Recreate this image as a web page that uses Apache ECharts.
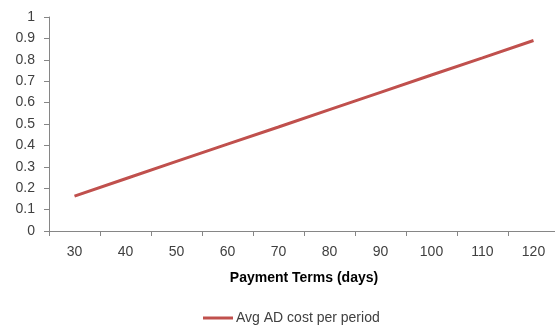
<!DOCTYPE html>
<html>
<head>
<meta charset="utf-8">
<script src="https://cdn.jsdelivr.net/npm/echarts@6/dist/echarts.min.js"></script>
<style>
  html, body { margin: 0; padding: 0; background: #fff; overflow: hidden; }
  /* plot area runs slightly past the right edge in the original */
  #chart { width: 559px; height: 328px; }
</style>
</head>
<body>
<div id="chart"></div>
<script>
// payment terms in days
const terms = ["30", "40", "50", "60", "70", "80", "90", "100", "110", "120"];
// average AD cost per period
const avgCost = [0.163, 0.244, 0.325, 0.406, 0.486, 0.567, 0.648, 0.729, 0.809, 0.89];
const yTicks = [0, 0.1, 0.2, 0.3, 0.4, 0.5, 0.6, 0.7, 0.8, 0.9, 1];

const chart = echarts.init(document.getElementById("chart"));
const axisColor = "#868686";
const font = "Liberation Sans";

chart.setOption({
  animation: false,
  grid: { left: 49, top: 17, right: 0, bottom: 97, containLabel: false },
  xAxis: {
    type: "category",
    data: terms,
    boundaryGap: true,
    name: "Payment Terms (days)",
    nameLocation: "middle",
    nameGap: 40,
    nameTextStyle: { fontFamily: font, fontSize: 14, fontWeight: "bold", color: "#000" },
    axisLine: { lineStyle: { color: axisColor, width: 1 } },
    axisTick: { show: true, interval: 0, length: 5, lineStyle: { color: axisColor } },
    axisLabel: { fontFamily: font, fontSize: 14, color: "#404040", margin: 14 },
    splitLine: { show: false }
  },
  yAxis: {
    type: "value",
    min: yTicks[0],
    max: yTicks[yTicks.length - 1],
    interval: 0.1,
    axisLine: { show: true, lineStyle: { color: axisColor, width: 1 } },
    axisTick: { show: true, length: 5, lineStyle: { color: axisColor } },
    axisLabel: {
      fontFamily: font, fontSize: 14, color: "#404040", margin: 14,
      formatter: v => String(Math.round(v * 10) / 10)
    },
    splitLine: { show: false }
  },
  legend: {
    left: 203,
    top: 311,
    padding: 0,
    icon: "rect",
    itemWidth: 30,
    itemHeight: 3,
    itemGap: 4,
    textStyle: { fontFamily: font, fontSize: 14, color: "#404040", padding: [0, 0, 0, -2] },
    data: ["Avg AD cost per period"]
  },
  series: [{
    name: "Avg AD cost per period",
    type: "line",
    data: avgCost,
    showSymbol: false,
    symbol: "none",
    lineStyle: { color: "#C0504D", width: 3 },
    itemStyle: { color: "#C0504D" }
  }]
});
</script>
</body>
</html>
